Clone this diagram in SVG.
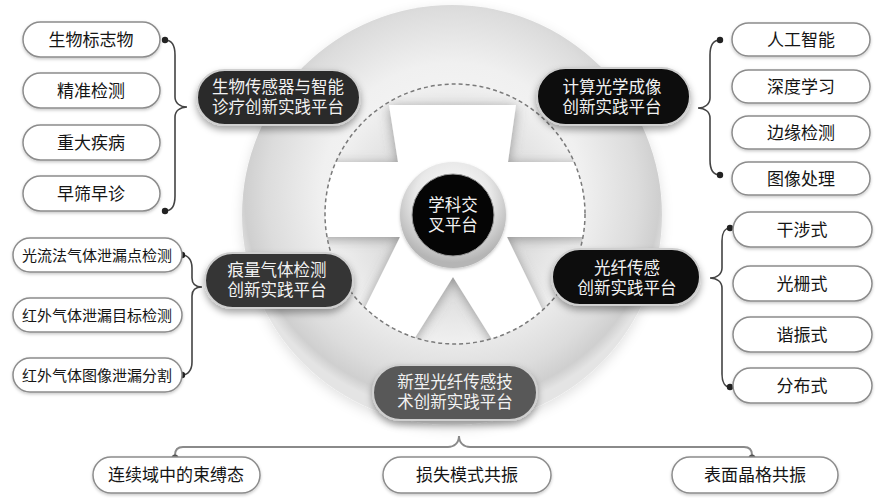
<svg xmlns="http://www.w3.org/2000/svg" width="882" height="498" viewBox="0 0 882 498">
<defs>
<style>
.leaf{fill:#ffffff;stroke:#8c8c8c;stroke-width:1.5;filter:url(#soft)}
.lt{font-family:"Noto Sans CJK SC","Noto Sans",sans-serif;font-size:17px;fill:#151515;text-anchor:middle}
.lts{font-size:15px}
.node{stroke:#cfcfcf;stroke-width:2;filter:url(#shadow)}
.nt{font-family:"Noto Sans CJK SC","Noto Sans",sans-serif;font-size:16.5px;fill:#f2f2f2;text-anchor:middle}
.brace{fill:none;stroke:#444444;stroke-width:1.6}
.bline{fill:none;stroke:#8a8a8a;stroke-width:2}
.dot{fill:#222222}
.bdot{fill:#555555}
</style>
<radialGradient id="gBig" cx="50%" cy="45%" r="52%">
<stop offset="0" stop-color="#fbfbfb"/>
<stop offset="0.6" stop-color="#f0f0f0"/>
<stop offset="0.85" stop-color="#dcdcdc"/>
<stop offset="0.95" stop-color="#cfcfcf"/>
<stop offset="1" stop-color="#e4e4e4"/>
</radialGradient>
<radialGradient id="gInner" cx="50%" cy="50%" r="50%">
<stop offset="0" stop-color="#cccccc"/>
<stop offset="0.6" stop-color="#dedede"/>
<stop offset="1" stop-color="#f0f0f0"/>
</radialGradient>
<radialGradient id="gRing" cx="50%" cy="35%" r="60%">
<stop offset="0" stop-color="#ffffff"/>
<stop offset="0.6" stop-color="#e8e8e8"/>
<stop offset="1" stop-color="#b5b5b5"/>
</radialGradient>
<clipPath id="cInner"><circle cx="455" cy="214" r="130"/></clipPath>
<filter id="shadow" x="-20%" y="-30%" width="140%" height="170%">
<feDropShadow dx="0" dy="4" stdDeviation="3.5" flood-color="#000000" flood-opacity="0.35"/>
</filter>
<filter id="soft" x="-10%" y="-30%" width="120%" height="170%">
<feDropShadow dx="0" dy="1.5" stdDeviation="1.5" flood-color="#000000" flood-opacity="0.22"/>
</filter>
<filter id="starShadow" x="-30%" y="-30%" width="160%" height="160%">
<feDropShadow dx="0" dy="2" stdDeviation="6" flood-color="#666666" flood-opacity="0.6"/>
</filter>
<filter id="bigShadow" x="-10%" y="-10%" width="120%" height="125%">
<feDropShadow dx="0" dy="4" stdDeviation="6" flood-color="#000000" flood-opacity="0.12"/>
</filter>
</defs>
<rect width="882" height="498" fill="#ffffff"/>

<g id="hub">
<circle cx="452" cy="215" r="210" fill="url(#gBig)" filter="url(#bigShadow)"/>
<g clip-path="url(#cInner)">
<circle cx="455" cy="214" r="130" fill="url(#gInner)"/>
<polygon points="389,105 516,105 508,162 600,162 600,237 507,237 563,352 500,352 453,277 406,352 343,352 400,237 310,237 310,162 398,162" fill="#ffffff" filter="url(#starShadow)"/>
</g>
<circle cx="455" cy="214" r="130" fill="none" stroke="#7a7a7a" stroke-width="1.5" stroke-dasharray="4 3"/>
</g>

<g id="center">
<circle cx="453" cy="215" r="53" fill="url(#gRing)" filter="url(#soft)"/>
<circle cx="453" cy="215" r="41" fill="#050505" stroke="#9a9a9a" stroke-width="1"/>
<text class="nt" x="453" y="211">学科交</text>
<text class="nt" x="453" y="231">叉平台</text>
</g>

<g id="connectors">
<path class="brace" d="M165,40 C172,40 175,46 175,55 L175,97 C175,103 180,107 187,107 C180,107 175,111 175,117 L175,196 C175,205 172,211 165,211"/>
<circle class="dot" cx="165" cy="40" r="3.2"/>
<circle class="dot" cx="165" cy="211" r="3.2"/>
<path class="brace" d="M720,40 C713,40 710,46 710,55 L710,98 C710,104 705,108 698,108 C705,108 710,112 710,118 L710,160 C710,169 713,175 720,175"/>
<circle class="dot" cx="720" cy="40" r="3.2"/>
<circle class="dot" cx="720" cy="175" r="3.2"/>
<path class="brace" d="M730,228 C725,228 722,233 722,241 L722,268 C722,274 717,278 710,278 C717,278 722,282 722,288 L722,374 C722,382 725,387 730,387"/>
<circle class="dot" cx="730" cy="228" r="3.2"/>
<circle class="dot" cx="730" cy="387" r="3.2"/>
<path class="brace" d="M182,255 C188,255 192,260 192,268 L192,278 C192,284 196,287 202,287 C196,287 192,290 192,296 L192,362 C192,370 188,375 182,375"/>
<circle class="dot" cx="182" cy="255" r="3.2"/>
<circle class="dot" cx="182" cy="375" r="3.2"/>
<path class="bline" d="M175,458 L175,455 Q175,447 183,447 L448,447 C454,447 459,443 459,436 C459,443 464,447 470,447 L744,447 Q752,447 752,455 L752,458"/>
<circle class="bdot" cx="175" cy="458" r="3.5"/>
<circle class="bdot" cx="752" cy="458" r="3.5"/>
</g>

<g id="node-bio">
<rect class="node" x="197" y="70" width="163" height="55" rx="27.5" fill="#2b2b2b"/>
<text class="nt" x="278" y="93">生物传感器与智能</text>
<text class="nt" x="278" y="113">诊疗创新实践平台</text>
</g>
<g id="node-optics">
<rect class="node" x="537" y="68" width="153" height="57" rx="28.5" fill="#080808"/>
<text class="nt" x="612" y="93">计算光学成像</text>
<text class="nt" x="612" y="113">创新实践平台</text>
</g>
<g id="node-gas">
<rect class="node" x="205" y="253" width="148" height="55" rx="27.5" fill="#363636"/>
<text class="nt" x="277" y="276">痕量气体检测</text>
<text class="nt" x="277" y="296">创新实践平台</text>
</g>
<g id="node-fiber">
<rect class="node" x="552" y="249" width="148" height="56" rx="28" fill="#0c0c0c"/>
<text class="nt" x="627" y="274">光纤传感</text>
<text class="nt" x="627" y="294">创新实践平台</text>
</g>
<g id="node-newfiber">
<rect class="node" x="373" y="365" width="164" height="55" rx="27.5" fill="#595959"/>
<text class="nt" x="455" y="388">新型光纤传感技</text>
<text class="nt" x="455" y="408">术创新实践平台</text>
</g>

<g id="leaf-biomarker"><rect class="leaf" x="23" y="22" width="137" height="35" rx="17.5"/><text class="lt" x="91" y="46">生物标志物</text></g>
<g id="leaf-precise"><rect class="leaf" x="23" y="73" width="137" height="35" rx="17.5"/><text class="lt" x="91" y="97">精准检测</text></g>
<g id="leaf-disease"><rect class="leaf" x="23" y="125" width="137" height="35" rx="17.5"/><text class="lt" x="91" y="149">重大疾病</text></g>
<g id="leaf-screen"><rect class="leaf" x="23" y="176" width="137" height="35" rx="17.5"/><text class="lt" x="91" y="200">早筛早诊</text></g>

<g id="leaf-ai"><rect class="leaf" x="732" y="23" width="138" height="33" rx="16.5"/><text class="lt" x="801" y="46">人工智能</text></g>
<g id="leaf-dl"><rect class="leaf" x="732" y="70" width="138" height="33" rx="16.5"/><text class="lt" x="801" y="93">深度学习</text></g>
<g id="leaf-edge"><rect class="leaf" x="732" y="116" width="138" height="33" rx="16.5"/><text class="lt" x="801" y="139">边缘检测</text></g>
<g id="leaf-img"><rect class="leaf" x="732" y="162" width="138" height="33" rx="16.5"/><text class="lt" x="801" y="185">图像处理</text></g>

<g id="leaf-interf"><rect class="leaf" x="733" y="212" width="139" height="35" rx="17.5"/><text class="lt" x="802" y="236">干涉式</text></g>
<g id="leaf-grating"><rect class="leaf" x="733" y="266" width="139" height="35" rx="17.5"/><text class="lt" x="802" y="290">光栅式</text></g>
<g id="leaf-reson"><rect class="leaf" x="733" y="317" width="139" height="35" rx="17.5"/><text class="lt" x="802" y="341">谐振式</text></g>
<g id="leaf-distrib"><rect class="leaf" x="733" y="368" width="139" height="35" rx="17.5"/><text class="lt" x="802" y="392">分布式</text></g>

<g id="leaf-flow"><rect class="leaf" x="13" y="238" width="169" height="34" rx="17"/><text class="lt lts" x="97" y="260.5">光流法气体泄漏点检测</text></g>
<g id="leaf-irtarget"><rect class="leaf" x="13" y="298" width="169" height="34" rx="17"/><text class="lt lts" x="97" y="320.5">红外气体泄漏目标检测</text></g>
<g id="leaf-irseg"><rect class="leaf" x="13" y="358" width="169" height="34" rx="17"/><text class="lt lts" x="97" y="380.5">红外气体图像泄漏分割</text></g>

<g id="leaf-bic"><rect class="leaf" x="93" y="457" width="167" height="36" rx="18"/><text class="lt" x="176" y="481">连续域中的束缚态</text></g>
<g id="leaf-lmr"><rect class="leaf" x="383" y="457" width="168" height="36" rx="18"/><text class="lt" x="467" y="481">损失模式共振</text></g>
<g id="leaf-slr"><rect class="leaf" x="672" y="457" width="166" height="36" rx="18"/><text class="lt" x="755" y="481">表面晶格共振</text></g>
</svg>
